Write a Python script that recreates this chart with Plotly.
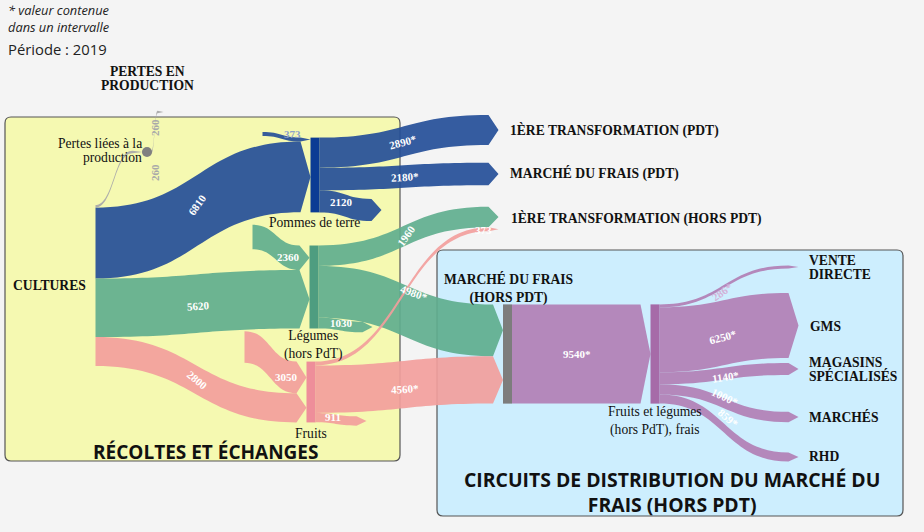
import plotly.graph_objects as go

W, H = 924, 532

# ---------------- data (thousand tonnes) ----------------
node_names = [
    "Cultures", "Cultures", "Cultures", "Cultures",
    "Importations (pommes de terre)", "Importations (légumes)", "Importations (fruits)",
    "Pertes liées à la production",
    "Pommes de terre", "Légumes (hors PdT)", "Fruits",
    "PERTES EN PRODUCTION",
    "1ÈRE TRANSFORMATION (PDT)", "MARCHÉ DU FRAIS (PDT)", "Exportations (pommes de terre)",
    "1ÈRE TRANSFORMATION (HORS PDT)", "Exportations (légumes)", "Exportations (fruits)",
    "MARCHÉ DU FRAIS (HORS PDT)", "Fruits et légumes (hors PdT), frais",
    "VENTE DIRECTE", "GMS", "MAGASINS SPÉCIALISÉS", "MARCHÉS", "RHD",
]
flow_source = [0, 7, 1, 2, 3, 4, 5, 6, 8, 8, 8, 9, 9, 9, 10, 10, 10, 18, 19, 19, 19, 19, 19]
flow_target = [7, 11, 8, 9, 10, 8, 9, 10, 12, 13, 14, 15, 18, 16, 15, 18, 17, 19, 20, 21, 22, 23, 24]
flow_value = [260, 260, 6810, 5620, 2800, 373, 2360, 3050,
              2890, 2180, 2120, 1960, 4980, 1030, 373, 4560, 911,
              9540, 286, 6250, 1140, 1000, 859]
flow_interval = [False, False, False, False, False, False, False, False,
                 True, True, False, False, True, False, False, True, False,
                 True, True, True, True, True, True]
flow_group = ["pertes", "pertes", "pdt", "leg", "fru", "pdt", "leg", "fru",
              "pdt", "pdt", "pdt", "leg", "leg", "leg", "fru", "fru", "fru",
              "fl", "fl", "fl", "fl", "fl", "fl"]
period_label = "Période : 2019"

# ---------------- layout / style ----------------
KY = 0.0104      # px per unit
PAD = 2
THICK = 9
group_color = {"pdt": "rgba(36,78,152,0.92)", "leg": "rgba(95,174,142,0.92)",
               "fru": "rgba(242,158,156,0.92)", "fl": "rgba(178,128,182,0.93)",
               "pertes": "rgba(170,170,170,0.95)"}
CLEAR = "rgba(0,0,0,0)"
node_color = [CLEAR] * len(node_names)
node_color[7] = "#8a8a8a"
node_color[8] = "#0b3c94"
node_color[9] = "#4e9d80"
node_color[10] = "#ee8e9a"
node_color[18] = "#7d7d7d"
node_color[19] = "#a66ba8"

# node centres in pixels
pos = {
    7: (147, 152), 4: (258, 134), 5: (248, 237), 6: (240, 347),
    8: (315, 175), 9: (314, 287), 10: (311, 392), 11: (168, 112),
    12: (503, 130), 13: (503, 174), 14: (386, 210), 15: (503, 219),
    16: (377, 327), 17: (371, 421), 18: (507.5, 354), 19: (655, 354),
    20: (803, 267), 21: (803, 325.5), 22: (803, 369), 23: (803, 417), 24: (803, 457),
}
# Cultures sub-nodes stacked as one block
y0 = 205.0
for n in [0, 1, 2, 3]:
    v = sum(val for s, val in zip(flow_source, flow_value) if s == n)
    h = v * KY
    pos[n] = (91, y0 + h / 2)
    y0 += h

# invisible spacer to fix the sankey scale
sinks = [i for i in range(len(node_names)) if i not in flow_source]
sink_total = sum(val for t, val in zip(flow_target, flow_value) if t in sinks)
spacer = (H - len(sinks) * PAD) / KY - sink_total
src = flow_source + [len(node_names)]
tgt = flow_target + [len(node_names) + 1]
vals = flow_value + [spacer]
names = node_names + ["", ""]
pos[len(node_names)] = (901, 266)
pos[len(node_names) + 1] = (919, 266)
ncol = node_color + [CLEAR, CLEAR]
lcol = [group_color[g] for g in flow_group] + [CLEAR]

nx = [max(pos[i][0] / W, 1e-4) for i in range(len(names))]
ny = [max(pos[i][1] / H, 1e-4) for i in range(len(names))]

fig = go.Figure(go.Sankey(
    arrangement="fixed",
    domain=dict(x=[0, 1], y=[0, 1]),
    node=dict(label=[""] * len(names), customdata=names, x=nx, y=ny, pad=PAD,
              thickness=THICK, color=ncol, line=dict(width=0),
              hovertemplate="%{customdata}: %{value}<extra></extra>"),
    link=dict(source=src, target=tgt, value=vals, color=lcol, arrowlen=10,
              hovertemplate="%{source.customdata} → %{target.customdata}: %{value}<extra></extra>"),
))


def P(x, y):
    return x / W, 1 - y / H


def rrect(x0, y0, x1, y1, r=6):
    a, b = P(x0, y0)
    c, d = P(x1, y1)
    rx, ry = r / W, r / H
    return (f"M{a+rx},{b} L{c-rx},{b} Q{c},{b} {c},{b-ry} L{c},{d+ry} Q{c},{d} {c-rx},{d} "
            f"L{a+rx},{d} Q{a},{d} {a},{d+ry} L{a},{b-ry} Q{a},{b} {a+rx},{b} Z")


shapes = [
    dict(type="path", xref="paper", yref="paper", path=rrect(5, 117, 400, 461),
         fillcolor="#f5f9b1", line=dict(color="#555", width=1.2), layer="below"),
    dict(type="path", xref="paper", yref="paper", path=rrect(437, 250, 903, 516),
         fillcolor="#cdeefe", line=dict(color="#555", width=1.2), layer="below"),
    dict(type="circle", xref="paper", yref="paper",
         x0=P(142, 157)[0], y0=P(142, 157)[1], x1=P(152, 147)[0], y1=P(152, 147)[1],
         fillcolor="#808080", line=dict(width=0)),
]

SERIF = "Liberation Serif"
SANS = "Open Sans"
ann = []


def txt(t, x, y, anchor="center", font=SERIF, size=13, color="#111", angle=0):
    ax, ay = P(x, y)
    ann.append(dict(text=t, x=ax, y=ay, xref="paper", yref="paper", xanchor=anchor,
                    yanchor="middle", showarrow=False, textangle=angle, align=anchor,
                    font=dict(family=font, size=size, color=color)))


txt("<i>* valeur contenue<br>dans un intervalle</i>", 6, 18.5, "left", SANS, 12.8, "#222")
txt(period_label, 6, 49, "left", SANS, 14.8, "#222")

for t, x, y, a in [("Pertes liées à la", 144, 143, "right"), ("production", 144, 157, "right"),
                   ("Pommes de terre", 314, 222, "center"), ("Légumes<br>(hors PdT)", 313, 345, "center"),
                   ("Fruits", 311, 433, "center"),
                   ("Fruits et légumes<br>(hors PdT), frais", 655, 421, "center")]:
    txt(t, x, y, a, SERIF, 13.6, "#111")

for t, x, y, a in [("PERTES EN", 147, 71, "center"), ("PRODUCTION", 147, 85, "center"),
                   ("CULTURES", 11, 285, "left"),
                   ("1ÈRE TRANSFORMATION (PDT)", 508, 130, "left"),
                   ("MARCHÉ DU FRAIS (PDT)", 508, 173, "left"),
                   ("1ÈRE TRANSFORMATION (HORS PDT)", 509, 218, "left"),
                   ("MARCHÉ DU FRAIS<br>(HORS PDT)", 508, 288, "center"),
                   ("VENTE", 807, 260, "left"), ("DIRECTE", 807, 274, "left"),
                   ("GMS", 808, 326, "left"), ("MAGASINS", 807, 362, "left"),
                   ("SPÉCIALISÉS", 807, 376, "left"), ("MARCHÉS", 807, 417, "left"),
                   ("RHD", 807, 456, "left")]:
    txt(f"<b>{t}</b>", x, y, a, SERIF, 13.6, "#111")

txt("<b>RÉCOLTES ET ÉCHANGES</b>", 205, 452, "center", SANS, 19, "#111")
txt("<b>CIRCUITS DE DISTRIBUTION DU MARCHÉ DU<br>FRAIS (HORS PDT)</b>", 672, 492, "center", SANS, 19.4, "#111")

# value labels on flows: (x, y, angle, colour) per flow, same order as the data
label_place = [
    (155, 173, -90, "#a9a9a9"), (155, 128, -90, "#a9a9a9"),
    (197, 205, -55, "white"), (198, 306, -4, "white"), (197, 380, 40, "white"),
    (292, 134, 0, "#8ea3c9"), (288, 257, 0, "white"), (286, 377, 0, "white"),
    (403, 142, -15, "white"), (405, 177, -3, "white"), (341, 202, 0, "white"),
    (406, 236, -55, "white"), (414, 293, 20, "white"), (341, 323, 0, "white"),
    (483, 230, 0, "white"), (405, 389, -3, "white"), (333, 417, 0, "white"),
    (577, 354, 0, "white"), (722, 292, -35, "#d3b2d8"), (723, 337, -15, "white"),
    (725, 377, -8, "white"), (725, 397, 25, "white"), (728, 418, 40, "white"),
]
for v, star, (x, y, a, c) in zip(flow_value, flow_interval, label_place):
    txt(f"<b>{v}{'*' if star else ''}</b>", x, y, "center", SERIF, 11, c, a)

fig.update_layout(width=W, height=H, margin=dict(l=0, r=0, t=0, b=0),
                  paper_bgcolor="#f4f4f4", plot_bgcolor="#f4f4f4",
                  shapes=shapes, annotations=ann, showlegend=False)
fig.write_html("out.html", config={"displayModeBar": False},
               post_script="document.body.style.margin='0';")
